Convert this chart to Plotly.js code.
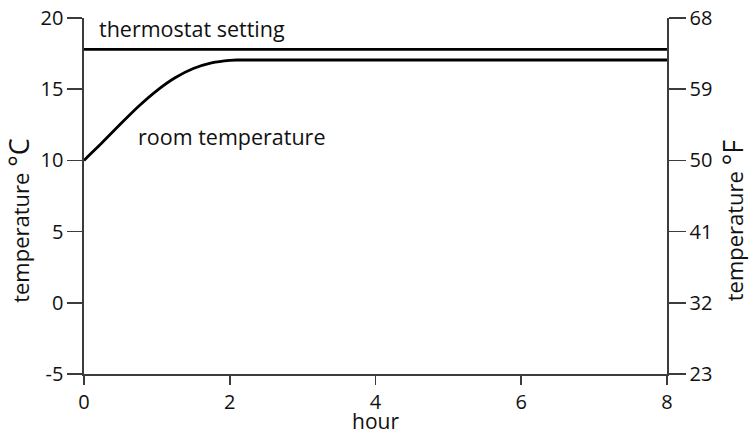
<!DOCTYPE html>
<html>
<head>
<meta charset="utf-8">
<script src="https://cdn.plot.ly/plotly-3.0.1.min.js"></script>
<style>html,body{margin:0;padding:0;background:#fff;}#chart{width:752px;height:435px;}</style>
</head>
<body>
<div id="chart"></div>
<script>
const hours = [0, 0.25, 0.5, 0.75, 1.0, 1.25, 1.5, 1.75, 2.0, 2.1, 8];
const roomTemp = [10, 11.25, 12.55, 13.8, 14.9, 15.8, 16.45, 16.85, 17.03, 17.05, 17.05];
const thermostatHours = [0, 8];
const thermostatTemp = [17.8, 17.8];
const celsiusTicks = [-5, 0, 5, 10, 15, 20];
const fahrenheitTicks = [23, 32, 41, 50, 59, 68];
const hourTicks = [0, 2, 4, 6, 8];

const FONT = 'Open Sans, Lato, sans-serif';
const AX = '#3c3c3c';
const TXT = '#111';
const PAD = '\u00A0\u00A0\u00A0\u00A0\u00A0\u00A0\u00A0';

const traces = [
  {x: thermostatHours, y: thermostatTemp, mode: 'lines', line: {color: '#000', width: 2.8}, hoverinfo: 'skip', showlegend: false},
  {x: hours, y: roomTemp, mode: 'lines', line: {color: '#000', width: 2.8, shape: 'spline', smoothing: 0.5}, hoverinfo: 'skip', showlegend: false},
  {x: [null], y: [null], yaxis: 'y2', mode: 'lines', hoverinfo: 'skip', showlegend: false}
];

const layout = {
  width: 752, height: 435,
  margin: {l: 84, r: 85, t: 18, b: 61},
  paper_bgcolor: '#fff', plot_bgcolor: '#fff',
  font: {family: FONT, size: 20, color: TXT},
  showlegend: false,
  xaxis: {
    range: [0, 8], tickvals: hourTicks, ticktext: hourTicks.map(String),
    showgrid: false, zeroline: false, showline: true, linecolor: AX, linewidth: 1.6,
    ticks: 'outside', ticklen: 9, tickwidth: 1.6, tickcolor: AX,
    tickfont: {family: FONT, size: 20, color: TXT},
    title: {text: 'hour', font: {family: FONT, size: 21, color: TXT}, standoff: 3}
  },
  yaxis: {
    range: [-5, 20], tickvals: celsiusTicks, ticktext: celsiusTicks.map(String),
    showgrid: false, zeroline: false, showline: true, linecolor: AX, linewidth: 1.6,
    ticks: 'outside', ticklen: 15, tickwidth: 1.6, tickcolor: AX,
    tickfont: {family: FONT, size: 20, color: TXT},
    title: {text: 'temperature <span style="font-size:27px">°C' + PAD + '</span>', font: {family: FONT, size: 22, color: TXT}, standoff: 8}
  },
  yaxis2: {
    range: [23, 68], overlaying: 'y', side: 'right', anchor: 'x',
    tickvals: fahrenheitTicks, ticktext: fahrenheitTicks.map(String),
    showgrid: false, zeroline: false, showline: true, linecolor: AX, linewidth: 1.6,
    ticks: 'outside', ticklen: 17, tickwidth: 1.6, tickcolor: AX,
    tickfont: {family: FONT, size: 20, color: TXT},
    title: {text: 'temperature <span style="font-size:27px">°F' + PAD + '</span>', font: {family: FONT, size: 22, color: TXT}, standoff: 16}
  },
  annotations: [
    {x: 0.18, y: 19.23, xref: 'x', yref: 'y', text: 'thermostat setting', showarrow: false, xanchor: 'left', yanchor: 'middle', font: {family: FONT, size: 21.5, color: TXT}},
    {x: 0.71, y: 11.71, xref: 'x', yref: 'y', text: 'room temperature', showarrow: false, xanchor: 'left', yanchor: 'middle', font: {family: FONT, size: 21.5, color: TXT}}
  ]
};

Plotly.newPlot('chart', traces, layout, {displayModeBar: false, staticPlot: true});
</script>
</body>
</html>
